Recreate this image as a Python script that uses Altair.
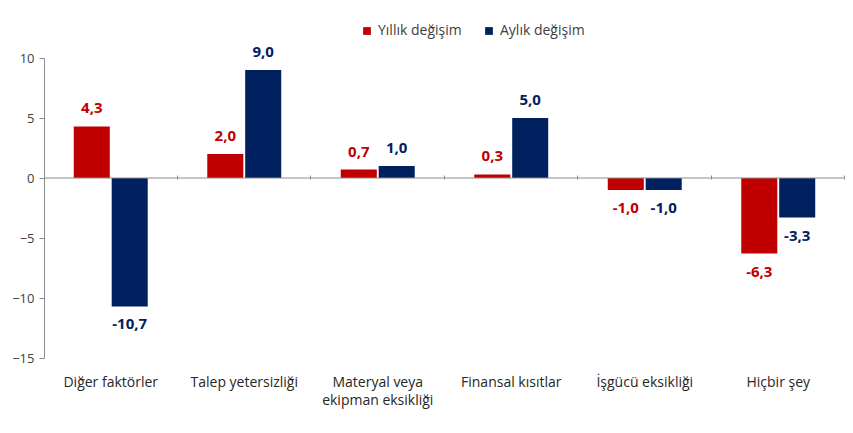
import altair as alt
import pandas as pd

categories = ["Diğer faktörler", "Talep yetersizliği", "Materyal veya|ekipman eksikliği",
              "Finansal kısıtlar", "İşgücü eksikliği", "Hiçbir şey"]
series = ["Yıllık değişim", "Aylık değişim"]
yillik = [4.3, 2.0, 0.7, 0.3, -1.0, -6.3]
aylik = [-10.7, 9.0, 1.0, 5.0, -1.0, -3.3]
colors = ["#C00000", "#002060"]
y_ticks = [-15, -10, -5, 0, 5, 10]

rows = []
for c, a, b in zip(categories, yillik, aylik):
    rows.append({"cat": c, "series": series[0], "val": a, "lab": f"{a:.1f}".replace(".", ",")})
    rows.append({"cat": c, "series": series[1], "val": b, "lab": f"{b:.1f}".replace(".", ",")})
df = pd.DataFrame(rows)

FONT = "Open Sans"
xscale = alt.Scale(paddingInner=0.446, paddingOuter=0.223)
xoff = alt.XOffset("series:N", sort=series, scale=alt.Scale(paddingInner=0.05))
yenc = alt.Y("val:Q", scale=alt.Scale(domain=[-15, 10], nice=False, zero=False),
             axis=alt.Axis(values=y_ticks, title=None, grid=False, domainColor="#8c8c8c",
                           tickColor="#8c8c8c", tickSize=5, labelFontSize=13, labelColor="#404040",
                           labelFont=FONT, labelPadding=5))
color = alt.Color("series:N", sort=series, scale=alt.Scale(domain=series, range=colors),
                  legend=alt.Legend(title=None, orient="none", legendX=316, legendY=-34,
                                    direction="horizontal", symbolType="square", symbolSize=60,
                                    labelFontSize=14, labelFont=FONT, labelColor="#404040",
                                    columnPadding=20, symbolStrokeWidth=0))

base = alt.Chart(df)

bars = base.mark_bar().encode(
    x=alt.X("cat:N", sort=categories, scale=xscale,
            axis=alt.Axis(title=None, labelAngle=0, domain=False, ticks=False, labelPadding=17,
                          labelFontSize=14, labelFont=FONT, labelColor="#262626",
                          labelExpr="split(datum.label, '|')", labelLimit=200, labelLineHeight=18)),
    xOffset=xoff, y=yenc, color=color,
)

pos_txt = base.transform_filter("datum.val >= 0").mark_text(
    dy=-18, fontSize=15, fontWeight="bold", font=FONT, baseline="middle").encode(
    x=alt.X("cat:N", sort=categories, scale=xscale, axis=None), xOffset=xoff,
    y=alt.Y("val:Q"), text="lab:N",
    color=alt.Color("series:N", sort=series, scale=alt.Scale(domain=series, range=colors), legend=None))

neg_txt = base.transform_filter("datum.val < 0").mark_text(
    dy=18, fontSize=15, fontWeight="bold", font=FONT, baseline="middle").encode(
    x=alt.X("cat:N", sort=categories, scale=xscale, axis=None), xOffset=xoff,
    y=alt.Y("val:Q"), text="lab:N",
    color=alt.Color("series:N", sort=series, scale=alt.Scale(domain=series, range=colors), legend=None))

zero = alt.Chart(pd.DataFrame({"z": [0]})).mark_rule(color="#8c8c8c", strokeWidth=1).encode(
    y=alt.Y("z:Q"))

tick_layer = base.mark_point(opacity=0).encode(
    x=alt.X("cat:N", sort=categories, scale=xscale,
            axis=alt.Axis(title=None, labels=False, domain=False, ticks=True, tickSize=4,
                          tickColor="#8c8c8c", bandPosition=1.40, offset=-121)),
    y=alt.Y("val:Q"),
)

chart = alt.layer(bars, pos_txt, neg_txt, zero, tick_layer).resolve_axis(x="independent").properties(
    width=801, height=300,
    autosize=alt.AutoSizeParams(type="none"),
    padding={"left": 36, "top": 50, "right": 0, "bottom": 75},
).configure_view(stroke=None)

chart.save("out.html", embed_options={"renderer": "svg", "actions": False})
